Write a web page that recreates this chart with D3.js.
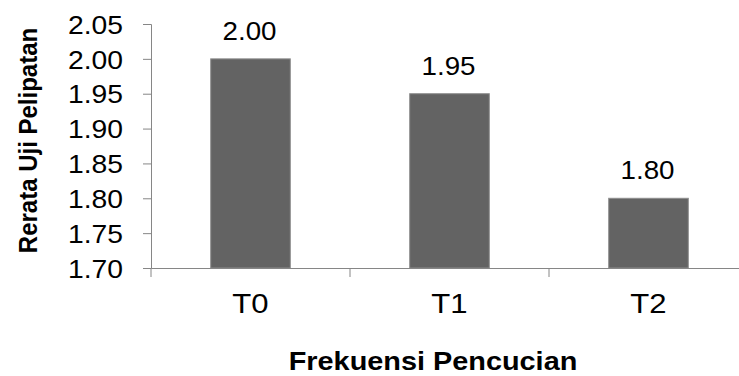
<!DOCTYPE html>
<html>
<head>
<meta charset="utf-8">
<script src="https://cdn.jsdelivr.net/npm/d3@7"></script>
<style>
  body { margin: 0; background: #fff; }
  text { font-family: "Liberation Sans", Arial, sans-serif; fill: #000; }
</style>
</head>
<body>
<div id="chart"></div>
<script>
var categories = ["T0", "T1", "T2"];
var values = [2.00, 1.95, 1.80];
var yTicks = [1.70, 1.75, 1.80, 1.85, 1.90, 1.95, 2.00, 2.05];
var xTitle = "Frekuensi Pencucian";
var yTitle = "Rerata Uji Pelipatan";

function init()
{
    const width = 739;
    const height = 376;
    const sx = 1.11; // source picture is a bit stretched sideways

    var left = 151, top = 24, bottom = 268, right = 748;

    var svg = d3.select("#chart")
        .append("svg")
        .attr("width", width)
        .attr("height", height);

    var x = d3.scaleBand()
        .domain(categories)
        .range([left, right])
        .paddingInner(0.6)
        .paddingOuter(0.3);

    var y = d3.scaleLinear()
        .domain([1.70, 2.05])
        .range([bottom, top]);

    // bars
    svg.selectAll("rect.bar")
        .data(values)
        .enter()
        .append("rect")
        .attr("class", "bar")
        .attr("x", function(d, i){ return x(categories[i]); })
        .attr("y", function(d){ return y(d); })
        .attr("width", x.bandwidth())
        .attr("height", function(d){ return y(1.70) - y(d); })
        .attr("fill", "#636363")
        .attr("stroke", "#8e8e8e")
        .attr("stroke-width", 1);

    // value labels
    svg.selectAll("text.val")
        .data(values)
        .enter()
        .append("text")
        .attr("class", "val")
        .attr("text-anchor", "middle")
        .attr("font-size", 25)
        .attr("transform", function(d, i){
            return "translate(" + (x(categories[i]) + x.bandwidth() / 2 - 1) + "," + (y(d) - 19) + ") scale(" + sx + ",1)";
        })
        .text(function(d){ return d3.format(".2f")(d); });

    // y axis
    var yAxis = svg.append("g")
        .attr("transform", "translate(" + left + ",0)")
        .call(d3.axisLeft(y).tickValues(yTicks).tickFormat(d3.format(".2f")).tickSize(8));
    yAxis.select(".domain").attr("stroke", "#868686");
    yAxis.selectAll(".tick line").attr("stroke", "#868686");
    yAxis.selectAll(".tick text")
        .attr("font-family", null)
        .attr("font-size", 25.5)
        .attr("x", -28 / sx)
        .attr("dy", "0.36em")
        .attr("transform", "scale(" + sx + ",1)");

    // x axis
    var xAxis = svg.append("g")
        .attr("transform", "translate(0," + bottom + ")")
        .call(d3.axisBottom(x).tickSize(0));
    xAxis.select(".domain").attr("stroke", "#868686");
    xAxis.selectAll(".tick text")
        .attr("font-family", null)
        .attr("font-size", 28)
        .attr("y", 45)
        .attr("dy", 0)
        .attr("transform", "scale(" + sx + ",1)")
        .attr("x", 0);

    // category boundary ticks
    var step = x.step();
    var bounds = categories.map(function(c){ return x(c) - step * x.paddingInner() / 2 - (x(c) === x(categories[0]) ? step * x.paddingOuter() - step * x.paddingInner() / 2 : 0); });
    bounds.push(right);
    svg.selectAll("line.bound")
        .data(bounds)
        .enter()
        .append("line")
        .attr("class", "bound")
        .attr("x1", function(d){ return d; })
        .attr("x2", function(d){ return d; })
        .attr("y1", bottom)
        .attr("y2", bottom + 9)
        .attr("stroke", "#868686");

    // axis titles
    svg.append("text")
        .attr("text-anchor", "middle")
        .attr("font-size", 26)
        .attr("font-weight", "bold")
        .attr("transform", "translate(433,370) scale(" + sx + ",1)")
        .text(xTitle);

    svg.append("text")
        .attr("text-anchor", "middle")
        .attr("font-size", 24)
        .attr("font-weight", "bold")
        .attr("transform", "translate(37,140.5) rotate(-90) scale(1," + sx + ")")
        .text(yTitle);
}

init();
</script>
</body>
</html>
